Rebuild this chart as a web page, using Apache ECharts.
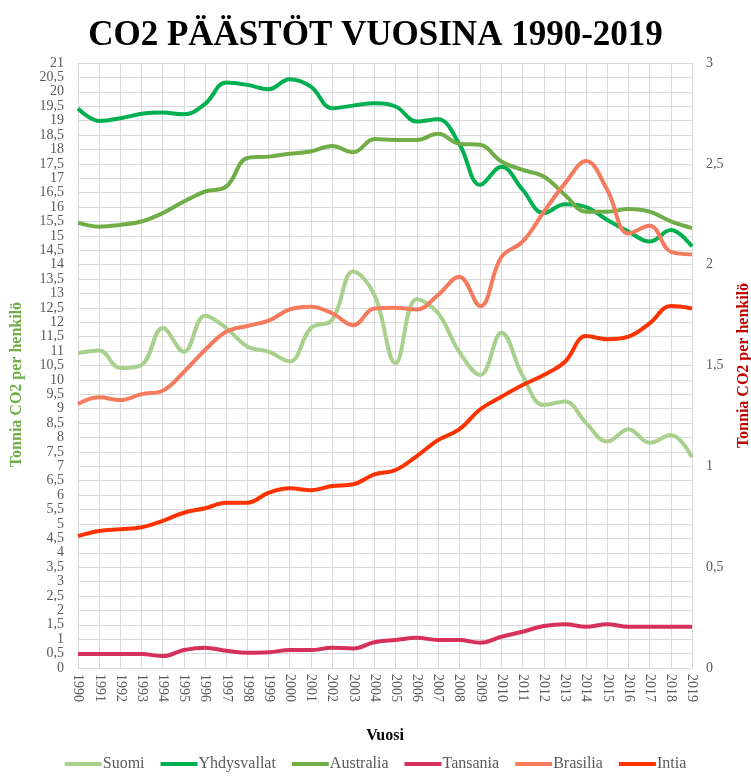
<!DOCTYPE html>
<html>
<head>
<meta charset="utf-8">
<script src="https://cdn.jsdelivr.net/npm/echarts@6/dist/echarts.min.js"></script>
<style>
  html, body { margin: 0; padding: 0; background: #fff; }
  #main { width: 751px; height: 778px; }
</style>
</head>
<body>
<div id="main"></div>
<script>
// vuodet
var vuodet = [];
for (var y = 1990; y <= 2019; y++) vuodet.push(String(y));

// vasen akseli (t CO2 / henkilö)
var suomi = [10.93, 11.02, 10.41, 10.52, 11.8, 10.98, 12.23, 11.8, 11.16, 10.98,
             10.64, 11.8, 12.08, 13.76, 12.95, 10.58, 12.8, 12.32, 10.98, 10.17,
             11.64, 10.15, 9.13, 9.25, 8.5, 7.86, 8.29, 7.82, 8.09, 7.31];
var yhdysvallat = [19.42, 18.99, 19.08, 19.24, 19.28, 19.22, 19.58, 20.32, 20.24, 20.09,
                   20.44, 20.18, 19.43, 19.52, 19.6, 19.49, 18.97, 19.05, 18.2, 16.77,
                   17.4, 16.6, 15.79, 16.1, 16.0, 15.55, 15.15, 14.8, 15.2, 14.63];
var australia = [15.46, 15.32, 15.38, 15.5, 15.79, 16.19, 16.54, 16.71, 17.7, 17.75,
                 17.85, 17.93, 18.12, 17.9, 18.36, 18.33, 18.33, 18.54, 18.2, 18.16,
                 17.58, 17.29, 17.06, 16.42, 15.84, 15.84, 15.93, 15.84, 15.5, 15.27];

// oikea akseli
var tansania = [0.069, 0.069, 0.069, 0.069, 0.059, 0.089, 0.101, 0.086, 0.076, 0.078,
                0.089, 0.089, 0.101, 0.097, 0.128, 0.139, 0.15, 0.139, 0.139, 0.125,
                0.155, 0.18, 0.208, 0.217, 0.205, 0.217, 0.205, 0.205, 0.205, 0.205];
var brasilia = [1.309, 1.342, 1.329, 1.358, 1.375, 1.468, 1.577, 1.667, 1.696, 1.722,
                1.778, 1.791, 1.759, 1.7, 1.783, 1.786, 1.778, 1.849, 1.94, 1.795,
                2.039, 2.114, 2.262, 2.403, 2.514, 2.37, 2.155, 2.193, 2.064, 2.051];
var intia = [0.654, 0.679, 0.688, 0.698, 0.73, 0.77, 0.792, 0.82, 0.82, 0.869,
             0.891, 0.882, 0.902, 0.911, 0.96, 0.982, 1.051, 1.13, 1.183, 1.283,
             1.345, 1.403, 1.453, 1.519, 1.646, 1.63, 1.643, 1.709, 1.795, 1.783];

var fontti = '"Liberation Serif", "Times New Roman", serif';
var pilkku = function (v) { return String(v).replace('.', ','); };

var myChart = echarts.init(document.getElementById('main'));

function sarja(nimi, data, vari, akseli) {
    return {
        name: nimi,
        type: 'line',
        yAxisIndex: akseli,
        data: data,
        smooth: 0.4,
        symbol: 'none',
        lineStyle: { width: 4, color: vari },
        itemStyle: { color: vari }
    };
}

var option = {
    animation: false,
    title: {
        text: 'CO2 PÄÄSTÖT VUOSINA 1990-2019',
        left: 'center',
        top: 13,
        textStyle: { fontFamily: fontti, fontSize: 35, fontWeight: 'bold', color: '#000' }
    },
    grid: { left: 78, right: 59, top: 63, bottom: 110, containLabel: false, outerBoundsMode: 'none' },
    legend: {
        top: 756,
        left: 'center',
        padding: 0,
        icon: 'rect',
        itemWidth: 37,
        itemHeight: 4,
        itemGap: 16,
        textStyle: { fontFamily: fontti, fontSize: 16, color: '#595959', padding: [0, 0, 0, -4] },
        data: ['Suomi', 'Yhdysvallat', 'Australia', 'Tansania', 'Brasilia', 'Intia']
    },
    xAxis: {
        type: 'category',
        data: vuodet,
        boundaryGap: false,
        name: 'Vuosi',
        nameLocation: 'middle',
        nameGap: 60,
        nameTextStyle: { fontFamily: fontti, fontSize: 16, fontWeight: 'bold', color: '#000' },
        axisLine: { lineStyle: { color: '#D9D9D9' } },
        axisTick: { show: false },
        axisLabel: { rotate: -90, margin: 6, interval: 0, fontFamily: fontti, fontSize: 14, color: '#595959' },
        splitLine: { show: true, lineStyle: { color: '#D9D9D9' } }
    },
    yAxis: [
        {
            type: 'value',
            min: 0, max: 21, interval: 0.5,
            name: 'Tonnia CO2 per henkilö',
            nameLocation: 'middle',
            nameRotate: 90,
            nameGap: 53,
            nameTextStyle: { fontFamily: fontti, fontSize: 16, fontWeight: 'bold', color: '#70AD47', padding: [0, 38, 0, 0] },
            axisLine: { show: false },
            axisTick: { show: false },
            axisLabel: { formatter: pilkku, margin: 14, fontFamily: fontti, fontSize: 14, color: '#595959' },
            splitLine: { lineStyle: { color: '#D9D9D9' } }
        },
        {
            type: 'value',
            min: 0, max: 3, interval: 0.5,
            name: 'Tonnia CO2 per henkilö',
            nameLocation: 'middle',
            nameRotate: 90,
            nameGap: 44,
            nameTextStyle: { fontFamily: fontti, fontSize: 16, fontWeight: 'bold', color: '#C00000' },
            axisLine: { show: false },
            axisTick: { show: false },
            axisLabel: { formatter: pilkku, margin: 14, fontFamily: fontti, fontSize: 14, color: '#595959' },
            splitLine: { show: false }
        }
    ],
    series: [
        sarja('Suomi', suomi, '#A9D18E', 0),
        sarja('Yhdysvallat', yhdysvallat, '#00B050', 0),
        sarja('Australia', australia, '#70AD47', 0),
        sarja('Tansania', tansania, '#D6315A', 1),
        sarja('Brasilia', brasilia, '#F47B5E', 1),
        sarja('Intia', intia, '#FF3300', 1)
    ]
};

myChart.setOption(option);
</script>
</body>
</html>
